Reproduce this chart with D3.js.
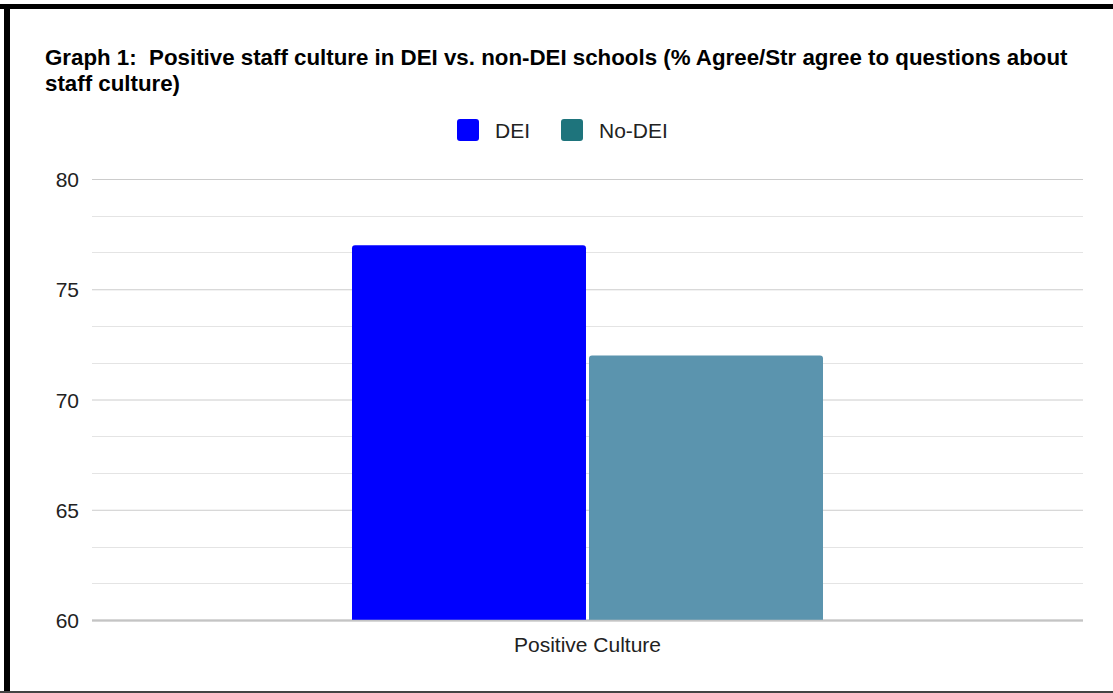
<!DOCTYPE html>
<html>
<head>
<meta charset="UTF-8">
<title>Graph 1</title>
<script src="https://cdn.jsdelivr.net/npm/d3@7"></script>
<style>
  body { margin: 0; background: #fff; }
  svg { display: block; font-family: Arial, "Liberation Sans", sans-serif; }
  text { white-space: pre; }
</style>
</head>
<body>
<svg id="chart" width="1113" height="693"></svg>
<script>
  // data
  const categories = ["Positive Culture"];
  const seriesNames = ["DEI", "No-DEI"];
  const barColors = ["#0000ff", "#5b94ae"];
  const legendColors = ["#0000ff", "#1e747c"];
  const dei = [77];
  const noDei = [72];
  const yTicks = [60, 65, 70, 75, 80];
  const titleLines = [
    "Graph 1:  Positive staff culture in DEI vs. non-DEI schools (% Agree/Str agree to questions about",
    "staff culture)"
  ];

  const svg = d3.select('#chart');
  const W = 1113, H = 693;
  const plot = {left: 92, right: 1083, top: 179, bottom: 620};

  // frame
  svg.append('rect').attr('x', 0).attr('y', 0).attr('width', W).attr('height', H).attr('fill', '#fff');
  svg.append('rect').attr('x', 0).attr('y', 4).attr('width', W).attr('height', 5).attr('fill', '#000');
  svg.append('rect').attr('x', 4).attr('y', 4).attr('width', 6).attr('height', H - 4).attr('fill', '#000');
  svg.append('rect').attr('x', 0).attr('y', 691).attr('width', W).attr('height', 2).attr('fill', '#444');

  // title
  svg.append('g').selectAll('text').data(titleLines).join('text')
    .attr('x', 45).attr('y', (d, i) => 65 + i * 26)
    .attr('font-size', 22.3).attr('font-weight', 'bold').attr('fill', '#000')
    .text(d => d);

  const y = d3.scaleLinear().domain([60, 80]).range([plot.bottom, plot.top]);
  const x0 = d3.scaleBand().domain(categories).range([plot.left, plot.right]).paddingInner(0).paddingOuter(0.552);
  const x1 = d3.scaleBand().domain(seriesNames).range([0, x0.bandwidth()]).paddingInner(0.0127);

  // minor gridlines (3 steps per major)
  const minor = d3.range(60, 80, 5 / 3).filter(v => Math.abs(v - Math.round(v / 5) * 5) > 0.01);
  svg.append('g').selectAll('line').data(minor).join('line')
    .attr('x1', plot.left).attr('x2', plot.right)
    .attr('y1', d => Math.round(y(d)) + 0.5).attr('y2', d => Math.round(y(d)) + 0.5)
    .attr('stroke', '#e4e4e4').attr('stroke-width', 1);

  // y axis with major gridlines
  const yAxis = d3.axisLeft(y).tickValues(yTicks).tickSize(-(plot.right - plot.left)).tickPadding(13);
  const gy = svg.append('g').attr('transform', `translate(${plot.left},0)`).call(yAxis);
  gy.select('.domain').remove();
  gy.selectAll('.tick line').attr('stroke', d => d === 60 ? '#bdbdbd' : '#cccccc')
    .attr('stroke-width', d => d === 60 ? 2 : 1);
  gy.selectAll('.tick text').attr('font-size', 21).attr('fill', '#222')
    .attr('font-family', 'Arial, "Liberation Sans", sans-serif').attr('dy', '0.36em');

  // bars
  const rows = categories.map((c, i) => ({cat: c, vals: [dei[i], noDei[i]]}));
  const groups = svg.append('g').selectAll('g').data(rows).join('g')
    .attr('transform', d => `translate(${x0(d.cat)},0)`);
  groups.selectAll('path').data(d => d.vals.map((v, j) => ({name: seriesNames[j], v, j})))
    .join('path')
    .attr('d', d => {
      const bx = x1(d.name), bw = x1.bandwidth(), top = y(d.v), bot = y(60), r = 3;
      return `M${bx},${bot}V${top + r}Q${bx},${top} ${bx + r},${top}H${bx + bw - r}Q${bx + bw},${top} ${bx + bw},${top + r}V${bot}Z`;
    })
    .attr('fill', d => barColors[d.j]);

  // baseline over bars
  svg.append('line').attr('x1', plot.left).attr('x2', plot.right)
    .attr('y1', y(60) + 0.5).attr('y2', y(60) + 0.5).attr('stroke', '#c4c4c4').attr('stroke-width', 1.5);

  // x axis label
  const xAxis = d3.axisBottom(x0).tickSize(0).tickPadding(17);
  const gx = svg.append('g').attr('transform', `translate(0,${plot.bottom})`).call(xAxis);
  gx.select('.domain').remove();
  gx.selectAll('.tick text').attr('font-size', 21).attr('fill', '#222')
    .attr('font-family', 'Arial, "Liberation Sans", sans-serif');

  // legend
  const legendX = [457, 561];
  const lg = svg.append('g').selectAll('g').data(seriesNames).join('g')
    .attr('transform', (d, i) => `translate(${legendX[i]},119)`);
  lg.append('rect').attr('width', 22).attr('height', 22).attr('rx', 3)
    .attr('fill', (d, i) => legendColors[i]);
  lg.append('text').attr('x', 38).attr('y', 18.7).attr('font-size', 21).attr('fill', '#222').text(d => d);
</script>
</body>
</html>
